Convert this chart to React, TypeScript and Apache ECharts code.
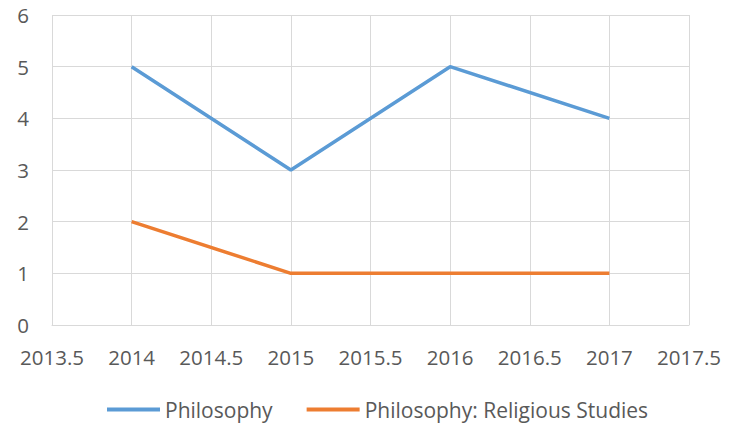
import React, { useEffect, useRef } from "react";
import * as echarts from "echarts";

const years = [2014, 2015, 2016, 2017];
const philosophy = [5, 3, 5, 4];
const religious = [2, 1, 1, 1];
const seriesNames = ["Philosophy", "Philosophy: Religious Studies"];

export default function App() {
  const ref = useRef<HTMLDivElement>(null);
  useEffect(() => {
    document.body.style.margin = "0";
    const chart = echarts.init(ref.current!, null, { renderer: "svg" });
    const font = "'Open Sans', sans-serif";
    chart.setOption({
      animation: false,
      backgroundColor: "#ffffff",
      grid: { left: 52, right: 50, top: 15, bottom: 100 },
      legend: {
        bottom: 0,
        left: 102,
        itemWidth: 53,
        itemHeight: 4,
        itemGap: 34,
        icon: "rect",
        textStyle: { fontFamily: font, fontSize: 21, color: "#595959", padding: [0, 0, 0, 0] },
        data: seriesNames,
      },
      xAxis: {
        type: "value",
        min: 2013.5,
        max: 2017.5,
        interval: 0.5,
        axisLine: { show: true, lineStyle: { color: "#D9D9D9" } },
        axisTick: { show: false },
        splitLine: { show: true, lineStyle: { color: "#D9D9D9", width: 1 } },
        axisLabel: {
          fontFamily: font,
          fontSize: 20.5,
          color: "#595959",
          margin: 21,
          showMinLabel: true,
          showMaxLabel: true,
          formatter: (v: number) => String(v),
        },
      },
      yAxis: {
        type: "value",
        min: 0,
        max: 6,
        interval: 1,
        axisLine: { show: false },
        axisTick: { show: false },
        splitLine: { show: true, lineStyle: { color: "#D9D9D9", width: 1 } },
        axisLabel: { fontFamily: font, fontSize: 20.5, color: "#595959", margin: 23 },
      },
      series: [
        {
          name: seriesNames[0],
          type: "line",
          data: years.map((y, i) => [y, philosophy[i]]),
          showSymbol: false,
          symbol: "none",
          lineStyle: { color: "#5B9BD5", width: 3.5 },
          itemStyle: { color: "#5B9BD5" },
        },
        {
          name: seriesNames[1],
          type: "line",
          data: years.map((y, i) => [y, religious[i]]),
          showSymbol: false,
          symbol: "none",
          lineStyle: { color: "#ED7D31", width: 3.5 },
          itemStyle: { color: "#ED7D31" },
        },
      ],
    });
    return () => chart.dispose();
  }, []);
  return <div ref={ref} style={{ width: 739, height: 425 }} />;
}
